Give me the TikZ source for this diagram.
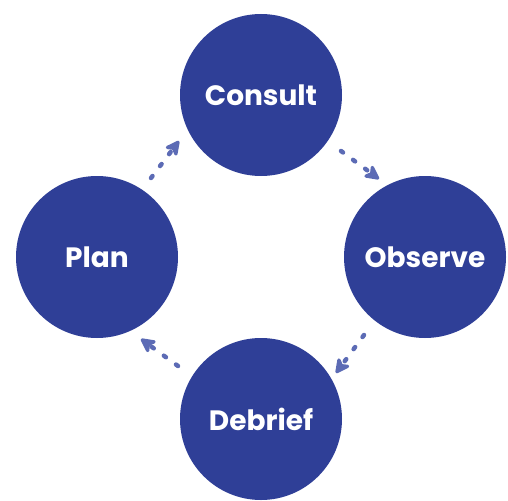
\documentclass[tikz,border=0pt]{standalone}
\usepackage{fontspec}
\setmainfont{Poppins}
\usetikzlibrary{arrows.meta}
\definecolor{cblue}{HTML}{2F3F97}
\definecolor{ablue}{HTML}{5C6BB5}
\begin{document}
\begin{tikzpicture}[x=1pt,y=-1pt,
  stage/.style={circle,fill=cblue,minimum size=162pt,inner sep=0pt,text=white,font=\fontsize{28}{32}\selectfont\bfseries},
  flow/.style={ablue,line width=4.5pt,line cap=round,dash pattern=on 2.5pt off 12.5pt,
    -{Stealth[length=18pt,width=18pt,inset=5pt,line cap=butt,round=false]}}]
\useasboundingbox (0,0) rectangle (508,500);
\node[stage] (consult) at (261,95) {Consult};
\node[stage] (plan) at (97,257) {Plan};
\node[stage] (observe) at (425,257) {Observe};
\node[stage] (debrief) at (261,419) {Debrief};
\coordinate (a1s) at (151,178);
\coordinate (a1e) at (179,141);
\coordinate (a2s) at (341,151);
\coordinate (a2e) at (379,179);
\coordinate (a3s) at (364,335);
\coordinate (a3e) at (336,373);
\coordinate (a4s) at (178,366);
\coordinate (a4e) at (141,339);
\draw[flow] (a1s) -- (a1e);
\draw[flow] (a2s) -- (a2e);
\draw[flow] (a3s) -- (a3e);
\draw[flow] (a4s) -- (a4e);
\end{tikzpicture}
\end{document}
